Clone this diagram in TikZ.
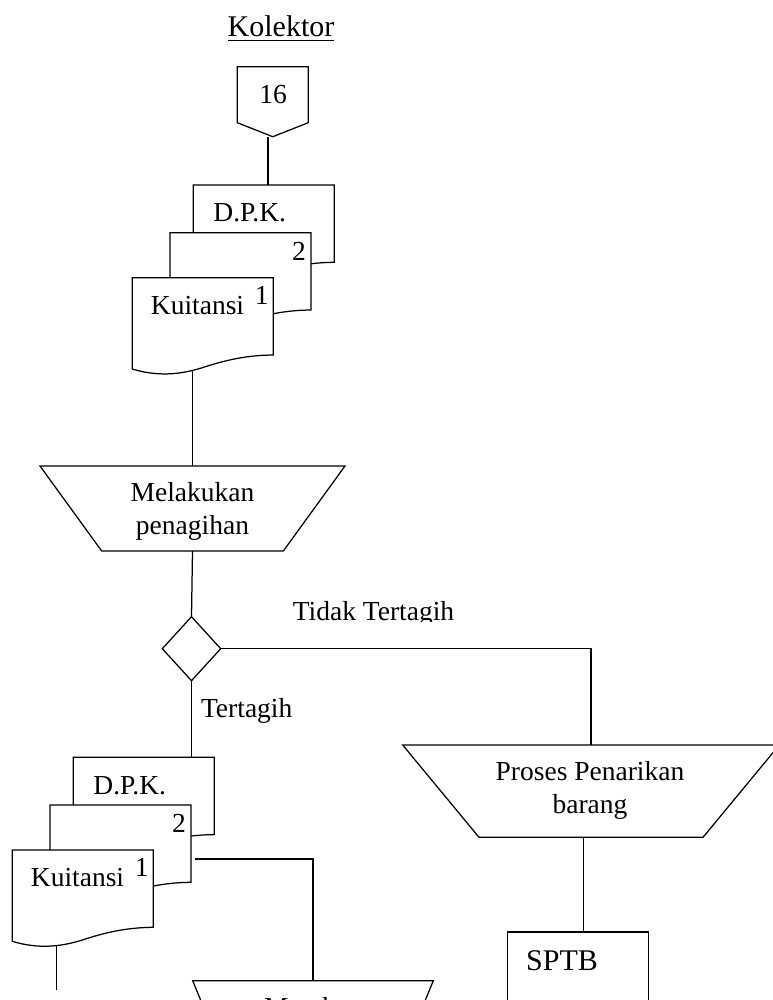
\documentclass[tikz,border=0pt]{standalone}
\usepackage{fontspec}
\setmainfont{Liberation Serif}
\usetikzlibrary{calc,shapes.geometric}
\pgfdeclarelayer{links}
\pgfsetlayers{links,main}

\tikzset{
  flow/.style={line width=0.5pt},
  sheet/.style={draw, fill=white, line width=0.5pt},
  txt/.style={inner sep=0pt, font=\fontsize{11}{13.2}\selectfont},
  bigtxt/.style={inner sep=0pt, font=\fontsize{12}{14.4}\selectfont},
  frame/.style={inner sep=0pt, outer sep=0pt},
  % stack of three paper documents (D.P.K. behind, copy 2, Kuitansi 1 in front)
  docstack/.pic={
    \foreach \dx/\dy in {0/0,-23.3/47.7,-61/92.7}{
      \begin{scope}[shift={(\dx,\dy)}]
        \draw[sheet] (0,0) -- (141,0) -- (141,77.3)
          .. controls (121,77.5) and (100,80) .. (70,90)
          .. controls (48,97) and (25,99) .. (0,91.3) -- cycle;
      \end{scope}
    }
    \node[txt, anchor=base] (-dpk) at (56.4,36.7) {D.P.K.};
    \node[txt, anchor=base] (-n2) at (105.6,75) {2};
    \node[txt, anchor=base] (-kui) at (4.2,129) {Kuitansi};
    \node[txt, anchor=base] (-n1) at (68.4,119) {1};
    \coordinate (-top) at (0,0);
    \coordinate (-inside) at (0,150);
    \coordinate (-midr) at (117.7,101.7);
  }
}

\begin{document}
\begin{tikzpicture}[x=0.4pt, y=-0.4pt]
\useasboundingbox (0,0) rectangle (773,1000);
\clip (0,0) rectangle (773,1000);

% title
\node[bigtxt, anchor=base] (title) at (281,36.7) {\underline{Kolektor}};

% off-page connector 16
\node[frame, minimum width=28.4pt, minimum height=28pt] (opc) at (272.8,101.7) {};
\draw[flow] (opc.north west) -- (opc.north east) -- ($(opc.south east)+(0,-14)$)
  -- (opc.south) -- ($(opc.south west)+(0,-14)$) -- cycle;
\node[txt, anchor=base] (opcnum) at (273,103) {16};
\coordinate (opcout) at ([xshift=-1.9pt]opc.south);

% first document stack
\pic (s1) at (193.3,185) {docstack};

% manual operation: Melakukan penagihan
\node[frame, minimum width=122pt, minimum height=34pt] (mel) at (192.5,508.5) {};
\draw[flow] (mel.north west) -- (mel.north east) -- ($(mel.south east)+(-61.7,0)$)
  -- ($(mel.south west)+(61.7,0)$) -- cycle;
\node[txt, align=center] (meltxt) at (192.5,511.8) {Melakukan\\penagihan};

% decision
\node[draw, flow, diamond, frame, minimum width=23.36pt, minimum height=25.6pt] (dia) at (191.5,648.7) {};
\begin{scope}
  \clip (250,590) rectangle (500,621.5);
  \node[txt, anchor=base] (tidak) at (373.5,620.6) {Tidak Tertagih};
\end{scope}
\node[txt, anchor=base] (ya) at (246.7,717) {Tertagih};

% manual operation: Proses Penarikan barang
\node[frame, minimum width=150.64pt, minimum height=36.92pt] (pro) at (591,791.15) {};
\draw[flow] (pro.north west) -- (pro.north east) -- ($(pro.south east)+(-76.3,0)$)
  -- ($(pro.south west)+(76.3,0)$) -- cycle;
\node[txt, align=center] (protxt) at (590,790) {Proses Penarikan\\barang};
\coordinate (proout) at ([xshift=-3.1pt]pro.south);

% SPTB document
\node[frame, draw, flow, minimum width=56.24pt, minimum height=40pt, anchor=north west] (sptb) at (507.7,932) {};
\node[bigtxt, anchor=base] (sptbtxt) at (562,970) {SPTB};

% second document stack
\pic (s2) at (73.3,757.3) {docstack};
\coordinate (s2end) at (56.7,990);

% manual operation: Merekap
\node[frame, minimum width=96.24pt, minimum height=24pt, anchor=north] (rek) at (313,980.7) {};
\draw[flow] (rek.north west) -- (rek.north east) -- ($(rek.south east)+(-24.6,0)$)
  -- ($(rek.south west)+(24.6,0)$) -- cycle;
\node[txt, anchor=base] (rektxt) at (313,1016.5) {Merekap};

% connectors
\begin{pgfonlayer}{links}
  \draw[flow] (opcout) -- (opcout |- s1-top);
  \draw[flow] (mel.north) -- (mel.north |- s1-inside);
  \draw[flow] (mel.south) -- (dia.north);
  \draw[flow] (dia.east) -| (pro.north);
  \draw[flow] (dia.south) -- (dia.south |- s2-top);
  \draw[flow] (proout) -- (proout |- sptb.north);
  \draw[flow] ([xshift=1.6pt]s2-midr) -| (rek.north);
  \draw[flow] (s2end |- s2-inside) -- (s2end);
\end{pgfonlayer}
\end{tikzpicture}
\end{document}
